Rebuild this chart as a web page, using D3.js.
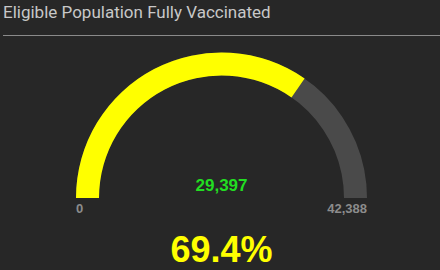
<!DOCTYPE html>
<html>
<head>
<meta charset="utf-8">
<script src="https://cdn.jsdelivr.net/npm/d3@7"></script>
<style>
  body { margin: 0; background: #272727; }
  svg { display: block; }
</style>
</head>
<body>
<svg id="canvas" width="440" height="270"></svg>
<script>
// gauge data
const title = "Eligible Population Fully Vaccinated";
const minValue = 0;
const maxValue = 42388;
const value = 29397;

const svg = d3.select("#canvas");
const width = 440, height = 270;

svg.append("rect").attr("width", width).attr("height", height).attr("fill", "#272727");

// title + rule
svg.append("text")
  .attr("x", 3).attr("y", 18)
  .attr("font-family", "Roboto, 'Open Sans', sans-serif")
  .attr("font-size", "17px")
  .attr("fill", "#c8c8c8")
  .text(title);

svg.append("line")
  .attr("x1", 3).attr("x2", 440)
  .attr("y1", 35.5).attr("y2", 35.5)
  .attr("stroke", "#8a8a8a").attr("stroke-width", 1);

const cx = 221.5, cy = 198;
const outerR = 145.5, innerR = 122.5;

const angle = d3.scaleLinear()
  .domain([minValue, maxValue])
  .range([-Math.PI / 2, Math.PI / 2]);

const arc = d3.arc().innerRadius(innerR).outerRadius(outerR);

const g = svg.append("g").attr("transform", `translate(${cx},${cy})`);

// background track
g.append("path")
  .attr("d", arc({ startAngle: angle(minValue), endAngle: angle(maxValue) }))
  .attr("fill", "#4a4a4a");

// value arc
g.append("path")
  .attr("d", arc({ startAngle: angle(minValue), endAngle: angle(value) }))
  .attr("fill", "#ffff00");

const fmt = d3.format(",");
const font = "'Liberation Sans', Arial, sans-serif";

// min / max labels
svg.append("text")
  .attr("x", cx - outerR).attr("y", 213)
  .attr("text-anchor", "start")
  .attr("font-family", font).attr("font-weight", "bold").attr("font-size", "13px")
  .attr("fill", "#8c8c8c")
  .text(fmt(minValue));

svg.append("text")
  .attr("x", cx + outerR).attr("y", 213)
  .attr("text-anchor", "end")
  .attr("font-family", font).attr("font-weight", "bold").attr("font-size", "13px")
  .attr("fill", "#8c8c8c")
  .text(fmt(maxValue));

// value label
svg.append("text")
  .attr("x", cx).attr("y", 191)
  .attr("text-anchor", "middle")
  .attr("font-family", font).attr("font-weight", "bold").attr("font-size", "17px")
  .attr("fill", "#22dd22")
  .text(fmt(value));

// percentage
svg.append("text")
  .attr("x", cx).attr("y", 262)
  .attr("text-anchor", "middle")
  .attr("font-family", font).attr("font-weight", "bold").attr("font-size", "36px")
  .attr("fill", "#ffff00")
  .text(d3.format(".1%")(value / maxValue));
</script>
</body>
</html>
